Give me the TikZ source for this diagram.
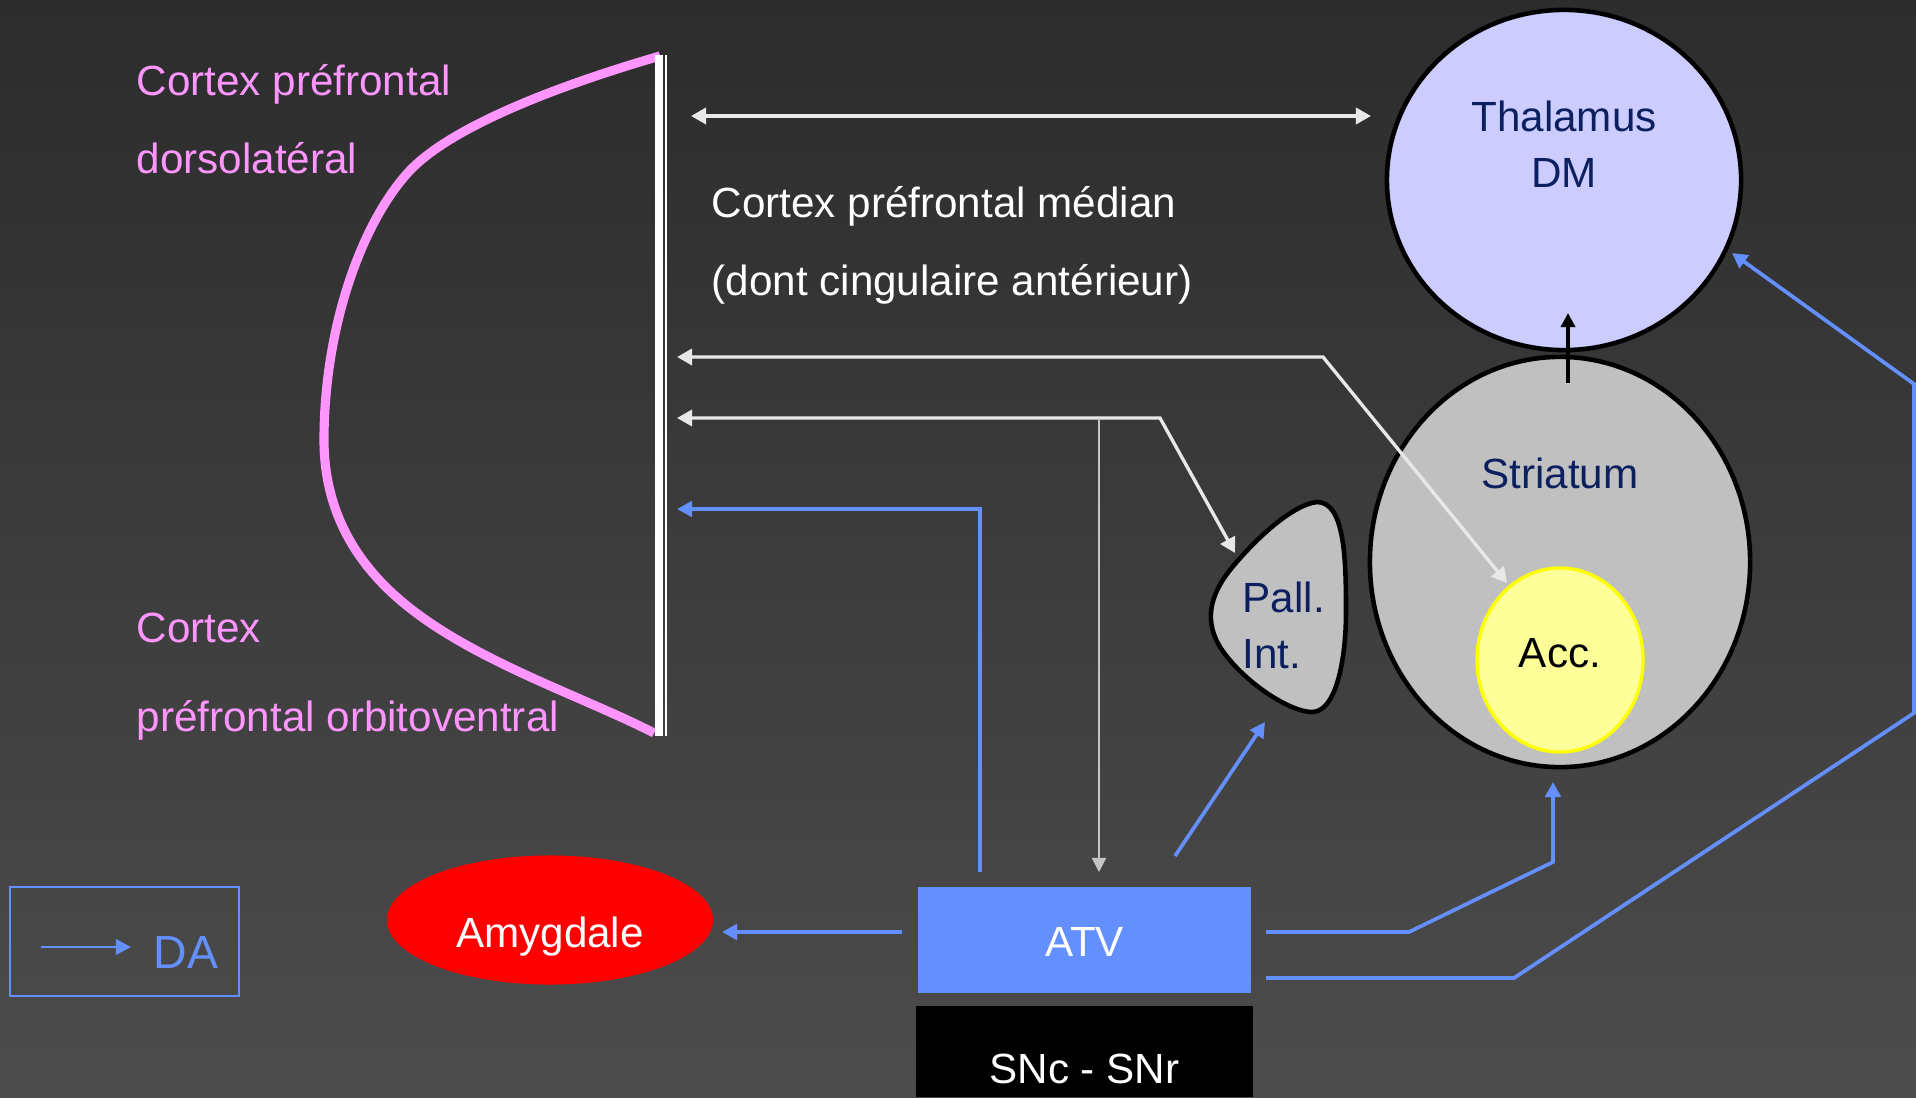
\documentclass[tikz,border=0pt]{standalone}
\usepackage{fontspec}
\setmainfont{Liberation Sans}
\usetikzlibrary{shapes.geometric,arrows.meta}
\definecolor{bgtop}{RGB}{44,44,44}
\definecolor{bgbot}{RGB}{76,76,76}
\definecolor{pinkc}{RGB}{255,150,255}
\definecolor{thalc}{RGB}{204,204,255}
\definecolor{navyc}{RGB}{12,32,96}
\definecolor{stric}{RGB}{192,192,192}
\definecolor{accf}{RGB}{255,255,153}
\definecolor{accb}{RGB}{255,255,0}
\definecolor{dablue}{RGB}{100,144,255}
\definecolor{wcol}{RGB}{232,232,232}
\begin{document}
\begin{tikzpicture}[x=0.01cm,y=-0.01cm,
  txt/.style={font=\fontsize{12}{14}\selectfont, inner sep=0pt},
  pinktxt/.style={txt, text=pinkc, anchor=base west},
  whitetxt/.style={txt, text=white, anchor=base west},
  wconn/.style={draw=wcol, line width=0.95pt},
  wdouble/.style={wconn, {Triangle[length=4.3pt,width=4.6pt]}-{Triangle[length=4.3pt,width=4.6pt]}},
  bconn/.style={draw=dablue, line width=1.05pt, -{Triangle[length=4.3pt,width=4.4pt]}},
  organ/.style={ellipse, draw=black, line width=1.3pt, inner sep=0pt},
]
% background
\shade[top color=bgtop, bottom color=bgbot] (0,0) rectangle (1916,1097);
\useasboundingbox (0,0) rectangle (1916,1097);

% cortex outline
\draw[pinkc, line width=2.6pt] (660,56) .. controls (560,85) and (445,128) .. (405,176) .. controls (360,228) and (324,330) .. (324,440) .. controls (324,520) and (365,570) .. (400,600) .. controls (470,660) and (580,695) .. (654,733);
\draw[white, line width=2.27pt] (659,55) -- (659,736);
\draw[white, line width=0.6pt] (666,55) -- (666,736);

% labels
\node[pinktxt] (cpf1) at (136,96) {Cortex préfrontal};
\node[pinktxt] (cpf2) at (136,173) {dorsolatéral};
\node[pinktxt] (cpo1) at (136,642) {Cortex};
\node[pinktxt] (cpo2) at (136,731) {préfrontal orbitoventral};
\node[whitetxt] (cpm1) at (711,218) {Cortex préfrontal médian};
\node[whitetxt] (cpm2) at (711,295) {(dont cingulaire antérieur)};

% organs
\node[organ, fill=thalc, minimum width=3.54cm, minimum height=3.40cm] (thal) at (1564,180) {};
\node[txt, text=navyc, anchor=base] (thal1) at (1564,132) {Thalamus};
\node[txt, text=navyc, anchor=base] (thal2) at (1564,188) {DM};
\node[organ, fill=stric, minimum width=3.80cm, minimum height=4.10cm] (stri) at (1560,562) {};
\node[txt, text=navyc, anchor=base] (strit) at (1560,488) {Striatum};
\node[ellipse, draw=accb, fill=accf, line width=0.95pt, inner sep=0pt, minimum width=1.66cm, minimum height=1.84cm] (acc) at (1560,660) {};
\node[txt, anchor=base] (acct) at (1560,667) {Acc.};

\filldraw[fill=stric, draw=black, line width=1.3pt] (1317,502) .. controls (1290,505) and (1250,545) .. (1230,570) .. controls (1210,595) and (1203,622) .. (1222,650) .. controls (1245,683) and (1290,712) .. (1312,712) .. controls (1336,712) and (1346,660) .. (1346,612) .. controls (1346,560) and (1345,502) .. (1317,502) -- cycle;
\node[txt, text=navyc, anchor=base west] (pall1) at (1242,612) {Pall.};
\node[txt, text=navyc, anchor=base west] (pall2) at (1242,668) {Int.};

\node[ellipse, fill=red, inner sep=0pt, minimum width=3.26cm, minimum height=1.29cm] (amy) at (550,920) {};
\node[txt, text=white, anchor=base] (amyt) at (550,947) {Amygdale};

\node[rectangle, fill=dablue, inner sep=0pt, minimum width=3.33cm, minimum height=1.06cm] (atv) at (1084.5,940) {};
\node[txt, text=white, anchor=base] (atvt) at (1084.5,956) {ATV};
\node[rectangle, fill=black, inner sep=0pt, minimum width=3.37cm, minimum height=0.91cm] (snc) at (1084.5,1051.5) {};
\node[txt, text=white, anchor=base] (snct) at (1084.5,1083) {SNc - SNr};

% legend
\node[rectangle, draw=dablue, line width=0.75pt, inner sep=0pt, minimum width=2.29cm, minimum height=1.09cm] (leg) at (124.5,941.5) {};
\node[txt, font=\fontsize{13.2}{15}\selectfont, text=dablue, anchor=base west] (dat) at (153,968) {DA};
\coordinate (legA) at (41,947);
\coordinate (legB) at (131,947);
\draw[draw=dablue, line width=0.7pt, -{Triangle[length=4.3pt,width=4.4pt]}] (legA) -- (legB);

% connector coordinates
\coordinate (topL) at (691,116);
\coordinate (topR) at (1371,116);
\coordinate (r1L) at (677,357);
\coordinate (r1B) at (1323,357);
\coordinate (r1E) at (1507,583);
\coordinate (r2L) at (677,418);
\coordinate (r2B) at (1160,418);
\coordinate (r2E) at (1235,553);
\coordinate (r3S) at (1099,418);
\coordinate (r3E) at (1099,872);
\coordinate (b1S) at (980,872);
\coordinate (b1B) at (980,509);
\coordinate (b1E) at (677,509);
\coordinate (b2S) at (1175,856);
\coordinate (b2E) at (1265,722);
\coordinate (b3S) at (902,932);
\coordinate (b3E) at (722,932);
\coordinate (b4S) at (1266,932);
\coordinate (b4B) at (1409,932);
\coordinate (b4C) at (1553,862);
\coordinate (b4E) at (1553,782);
\coordinate (b5S) at (1266,978);
\coordinate (b5B) at (1514,978);
\coordinate (b5C) at (1914,713);
\coordinate (b5D) at (1914,384);
\coordinate (b5E) at (1732,253);
\coordinate (kS) at (1568,383);
\coordinate (kE) at (1568,313);

% white connectors
\draw[wdouble] (topL) -- (topR);
\draw[wdouble] (r1L) -- (r1B) -- (r1E);
\draw[wdouble] (r2L) -- (r2B) -- (r2E);
\draw[draw=wcol!85!black, line width=0.55pt, -{Triangle[length=4pt,width=4pt]}] (r3S) -- (r3E);

% dopamine connectors
\draw[bconn] (b1S) -- (b1B) -- (b1E);
\draw[bconn] (b2S) -- (b2E);
\draw[bconn] (b3S) -- (b3E);
\draw[bconn] (b4S) -- (b4B) -- (b4C) -- (b4E);
\draw[bconn] (b5S) -- (b5B) -- (b5C) -- (b5D) -- (b5E);

% striatum -> thalamus
\draw[black, line width=0.95pt, -{Triangle[length=4pt,width=4pt]}] (kS) -- (kE);
\end{tikzpicture}
\end{document}
